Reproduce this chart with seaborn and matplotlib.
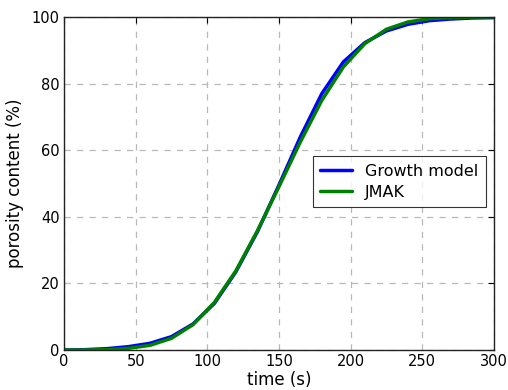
import matplotlib
matplotlib.use("Agg")
import matplotlib.pyplot as plt
import seaborn as sns
import pandas as pd

time_s = [0, 15, 30, 45, 60, 75, 90, 105, 120, 135, 150, 165, 180, 195, 210, 225, 240, 255, 270, 285, 300]
growth_model = [0, 0.1, 0.4, 1.0, 2.0, 4.0, 7.8, 14.0, 23.5, 35.5, 49.5, 64.0, 77.0, 86.5, 92.3, 95.8, 97.8, 98.9, 99.4, 99.7, 99.8]
jmak = [0, 0.0, 0.1, 0.5, 1.4, 3.5, 7.6, 14.3, 23.8, 35.8, 49.0, 62.5, 75.0, 85.0, 92.0, 96.3, 98.5, 99.5, 99.8, 99.95, 100.0]
series_names = ["Growth model", "JMAK"]
colors = ["#0000ff", "#008000"]
x_ticks = [0, 50, 100, 150, 200, 250, 300]
y_ticks = [0, 20, 40, 60, 80, 100]

df = pd.concat([
    pd.DataFrame({"time": time_s, "value": growth_model, "series": series_names[0]}),
    pd.DataFrame({"time": time_s, "value": jmak, "series": series_names[1]}),
])

sns.set_style("white")
plt.rcParams['font.family'] = ['DejaVu Sans']
plt.rcParams['text.color'] = 'black'
plt.rcParams['axes.labelcolor'] = 'black'

fig = plt.figure(figsize=(5.08, 3.9), dpi=100)
ax = fig.add_axes([0.126, 0.1026, 0.846, 0.8538])

sns.lineplot(data=df, x="time", y="value", hue="series", palette=colors,
             linewidth=2.5, ax=ax, legend=True)

ax.set_xlim(0, 300)
ax.set_ylim(0, 100)
ax.set_xticks(x_ticks)
ax.set_yticks(y_ticks)
ax.tick_params(direction="in", length=4, width=0.8, top=True, right=True,
               labelsize=10.5, colors="black", pad=3)
ax.grid(True, linestyle=(0, (5, 5)), color="#b8b8b8", linewidth=0.9)
for s in ax.spines.values():
    s.set_color("#222222")
    s.set_linewidth(1.0)
    s.set_visible(True)

ax.set_xlabel("time (s)", fontsize=12, labelpad=1)
ax.set_ylabel("porosity content (%)", fontsize=12, labelpad=6)

handles, labels = ax.get_legend_handles_labels()
leg = ax.legend(handles, labels, loc="center right", bbox_to_anchor=(0.981, 0.505),
                borderaxespad=0, fontsize=11.5, frameon=True, fancybox=False,
                edgecolor="black", handlelength=2.0, borderpad=0.45, labelspacing=0.4)
leg.get_frame().set_linewidth(0.8)

fig.savefig("out.png", dpi=100)
